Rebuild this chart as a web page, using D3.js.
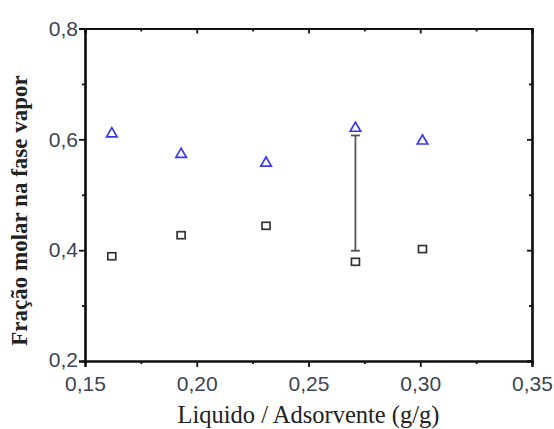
<!DOCTYPE html>
<html>
<head>
<meta charset="utf-8">
<script src="https://cdn.jsdelivr.net/npm/d3@7"></script>
<style>
  body { margin: 0; background: #fff; }
  #chart { width: 554px; height: 429px; }
</style>
</head>
<body>
<div id="chart"></div>
<script>
const xRatio = [0.162, 0.193, 0.231, 0.271, 0.301]
const fracTriangle = [0.611, 0.574, 0.558, 0.621, 0.598]
const fracSquare = [0.389, 0.427, 0.444, 0.379, 0.402]
const errorBar = { x: 0.271, low: 0.399, high: 0.607 }
const xTicks = [0.15, 0.20, 0.25, 0.30, 0.35]
const yTicks = [0.2, 0.4, 0.6, 0.8]
const xMinor = [0.175, 0.225, 0.275, 0.325]
const yMinor = [0.3, 0.5, 0.7]

const width = 554
const height = 429
const margin = { left: 85, right: 22, top: 28.5, bottom: 68 }

const svg = d3.select("#chart").append("svg")
  .attr("width", width)
  .attr("height", height)

const xScale = d3.scaleLinear()
  .domain([0.15, 0.35])
  .range([margin.left, width - margin.right])

const yScale = d3.scaleLinear()
  .domain([0.2, 0.8])
  .range([height - margin.bottom, margin.top])

const comma = d => d3.format(".2f")(d).replace(".", ",")
const commaY = d => d3.format(".1f")(d).replace(".", ",")

const tickColor = "#3b4452"
const labelFont = "'Liberation Sans', Arial, sans-serif"

// bottom axis, ticks outward
const bottomAxis = svg.append("g")
  .attr("transform", `translate(0,${yScale(0.2)})`)
bottomAxis.call(d3.axisBottom(xScale).tickValues(xMinor).tickSize(3).tickFormat(""))
bottomAxis.append("g").call(d3.axisBottom(xScale).tickValues(xTicks).tickSize(6).tickFormat(comma))

// left axis, ticks outward
const leftAxis = svg.append("g")
  .attr("transform", `translate(${xScale(0.15)},0)`)
leftAxis.call(d3.axisLeft(yScale).tickValues(yMinor).tickSize(3).tickFormat(""))
leftAxis.append("g").call(d3.axisLeft(yScale).tickValues(yTicks).tickSize(6).tickFormat(commaY))

// top and right, mirrored ticks pointing inside
const topAxis = svg.append("g")
  .attr("transform", `translate(0,${yScale(0.8)})`)
topAxis.call(d3.axisTop(xScale).tickValues(xMinor).tickSize(-3).tickFormat(""))
topAxis.append("g").call(d3.axisTop(xScale).tickValues(xTicks).tickSize(-5).tickFormat(""))

const rightAxis = svg.append("g")
  .attr("transform", `translate(${xScale(0.35)},0)`)
rightAxis.call(d3.axisRight(yScale).tickValues(yMinor).tickSize(-3).tickFormat(""))
rightAxis.append("g").call(d3.axisRight(yScale).tickValues(yTicks).tickSize(-5).tickFormat(""))

svg.selectAll(".domain")
  .attr("stroke", "#111")
  .attr("stroke-width", 2.2)
svg.selectAll(".tick line")
  .attr("stroke", "#111")
  .attr("stroke-width", 1.8)
svg.selectAll(".tick text")
  .attr("fill", tickColor)
  .style("font-family", labelFont)
  .style("font-size", "21px")

bottomAxis.selectAll(".tick text").attr("dy", "0.71em").attr("y", 15)
leftAxis.selectAll(".tick text").attr("x", -7)
leftAxis.selectAll(".tick text").filter(d => d === 0.2).attr("dy", "0.26em")

// error bar
const eb = svg.append("g")
  .attr("stroke", "#555")
  .attr("stroke-width", 1.8)
eb.append("line")
  .attr("x1", xScale(errorBar.x)).attr("x2", xScale(errorBar.x))
  .attr("y1", yScale(errorBar.low)).attr("y2", yScale(errorBar.high))
eb.selectAll("line.cap")
  .data([errorBar.low, errorBar.high])
  .enter()
  .append("line")
    .attr("class", "cap")
    .attr("x1", xScale(errorBar.x) - 4.5)
    .attr("x2", xScale(errorBar.x) + 4.5)
    .attr("y1", d => yScale(d))
    .attr("y2", d => yScale(d))

// squares
svg.append("g")
  .selectAll("rect")
  .data(xRatio)
  .enter()
  .append("rect")
    .attr("x", d => xScale(d) - 4)
    .attr("y", (d, i) => yScale(fracSquare[i]) - 3.5)
    .attr("width", 8)
    .attr("height", 7)
    .attr("fill", "none")
    .attr("stroke", "#333")
    .attr("stroke-width", 1.7)

// triangles
const tri = d3.symbol().type(d3.symbolTriangle).size(48)
svg.append("g")
  .selectAll("path")
  .data(xRatio)
  .enter()
  .append("path")
    .attr("d", tri)
    .attr("transform", (d, i) => `translate(${xScale(d)},${yScale(fracTriangle[i]) + 0.5})`)
    .attr("fill", "none")
    .attr("stroke", "#3838f0")
    .attr("stroke-width", 1.7)

// axis titles
svg.append("text")
  .attr("x", (xScale(0.15) + xScale(0.35)) / 2)
  .attr("y", 417)
  .attr("text-anchor", "middle")
  .attr("dominant-baseline", "middle")
  .style("font-family", "'Liberation Serif', 'Times New Roman', serif")
  .style("font-size", "24.5px")
  .attr("fill", "#222")
  .text("Liquido / Adsorvente (g/g)")

svg.append("text")
  .attr("transform", `translate(22,210.5) rotate(-90)`)
  .attr("text-anchor", "middle")
  .attr("dominant-baseline", "middle")
  .style("font-family", "'Liberation Serif', 'Times New Roman', serif")
  .style("font-size", "23px")
  .style("font-weight", "bold")
  .attr("fill", "#222")
  .text("Fração molar na fase vapor")
</script>
</body>
</html>
